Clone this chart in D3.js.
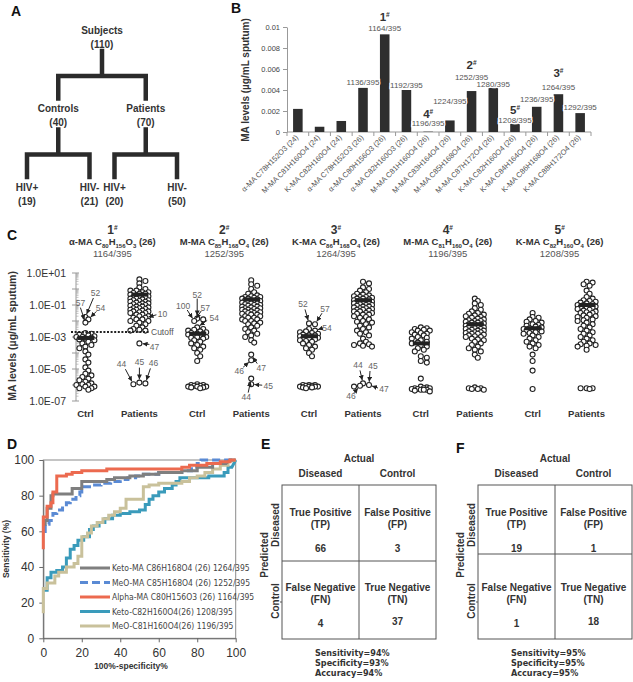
<!DOCTYPE html>
<html><head><meta charset="utf-8">
<script src="https://cdn.jsdelivr.net/npm/d3@7"></script>
<style>
body{margin:0;background:#fff;}
svg{display:block;font-family:"Liberation Sans",Arial,sans-serif;}
</style></head><body>
<svg id="c" width="633" height="682"></svg>
<script>
// ================= DATA =================
// Panel A: study tree
const treeIds = ["S","C","P","C+","C-","P+","P-"];
const treeParents = ["","S","S","C","C","P","P"];
const treeNames = ["Subjects","Controls","Patients","HIV+","HIV-","HIV+","HIV-"];
const treeCounts = [110,40,70,19,21,20,50];

// Panel B: MA levels per species
const bCategories = ["α-MA C78H152O3 (24)","M-MA C81H160O4 (24)","K-MA C82H160O4 (24)","α-MA C78H152O3 (26)","α-MA C80H156O3 (26)","α-MA C82H160O3 (26)","M-MA C81H160O4 (26)","M-MA C83H164O4 (26)","M-MA C85H168O4 (26)","M-MA C87H172O4 (26)","K-MA C82H160O4 (26)","K-MA C84H164O4 (26)","K-MA C86H168O4 (26)","K-MA C88H172O4 (26)"];
const bValues = [0.0022,0.0005,0.00105,0.0042,0.0093,0.0040,0.00003,0.0011,0.0039,0.0042,0.0008,0.0024,0.0036,0.0018];
const bIonLabels = [null,null,null,"1136/395","1164/395","1192/395","1196/395","1224/395","1252/395","1280/395","1208/395","1236/395","1264/395","1292/395"];
const bMarkerNums = [null,null,null,null,"1",null,"4",null,"2",null,"5",null,"3",null];
const bYTicks = [0,0.002,0.004,0.006,0.008,0.01];

// Panel C: log10 of MA levels (µg/mL sputum)
const cMarkerNums = ["1","2","3","4","5"];
const cMarkerNames = ["α-MA","M-MA","K-MA","M-MA","K-MA"];
const cFormulas = ["C80H156O3","C85H168O4","C86H168O4","C81H160O4","C82H160O4"];
const cChains = ["(26)","(26)","(26)","(26)","(26)"];
const cIons = ["1164/395","1252/395","1264/395","1196/395","1208/395"];
const cGroupLabels = ["Ctrl","Patients"];
const cYTicks = [1e1,1e-1,1e-3,1e-5,1e-7];
const c1Ctrl = [-1.75,-1.9,-2.1,-2.75,-2.8,-2.85,-2.9,-2.95,-3.0,-3.0,-3.05,-3.1,-3.15,-3.2,-3.3,-3.4,-3.5,-3.6,-3.7,-3.9,-4.1,-4.4,-4.6,-4.9,-5.1,-5.3,-5.4,-5.5,-5.6,-5.7,-5.8,-5.9,-6.0,-6.0,-6.1,-6.1,-6.2,-6.2,-6.3,-5.95];
const c1Pat = [0.6,0.5,0.35,0.1,0.0,-0.1,-0.1,-0.2,-0.2,-0.25,-0.3,-0.3,-0.35,-0.4,-0.4,-0.45,-0.5,-0.5,-0.55,-0.6,-0.6,-0.65,-0.7,-0.7,-0.75,-0.8,-0.8,-0.85,-0.9,-0.9,-0.95,-1.0,-1.0,-1.05,-1.1,-1.1,-1.15,-1.2,-1.2,-1.25,-1.3,-1.3,-1.35,-1.4,-1.4,-1.45,-1.5,-1.5,-1.6,-1.6,-1.7,-1.7,-1.8,-1.8,-1.9,-1.9,-2.0,-2.0,-2.1,-2.2,-2.3,-2.4,-2.5,-2.55,-2.6,-2.6,-3.4,-5.85,-5.95,-5.9];
const c2Ctrl = [-1.85,-1.9,-2.0,-2.4,-2.5,-2.55,-2.6,-2.65,-2.7,-2.75,-2.8,-2.8,-2.85,-2.9,-2.95,-3.0,-3.0,-3.05,-3.1,-3.2,-3.3,-3.4,-3.5,-3.6,-3.7,-3.8,-4.0,-4.2,-4.5,-5.95,-6.0,-6.0,-6.05,-6.05,-6.1,-6.1,-6.1,-6.15,-6.15,-6.2];
const c2Pat = [0.55,0.3,0.2,0.0,-0.2,-0.3,-0.4,-0.45,-0.5,-0.5,-0.55,-0.6,-0.6,-0.65,-0.7,-0.7,-0.75,-0.8,-0.8,-0.85,-0.9,-0.9,-0.95,-1.0,-1.0,-1.05,-1.1,-1.1,-1.15,-1.2,-1.2,-1.25,-1.3,-1.3,-1.35,-1.4,-1.4,-1.45,-1.5,-1.5,-1.55,-1.6,-1.6,-1.7,-1.7,-1.8,-1.8,-1.9,-1.9,-2.0,-2.0,-2.1,-2.15,-2.2,-2.3,-2.4,-2.5,-2.6,-2.7,-2.8,-2.9,-3.0,-3.2,-3.35,-4.1,-4.45,-5.6,-5.95];
const c3Ctrl = [-2.15,-2.2,-2.5,-2.6,-2.65,-2.7,-2.75,-2.8,-2.85,-2.9,-2.9,-2.95,-3.0,-3.0,-3.05,-3.1,-3.1,-3.15,-3.2,-3.25,-3.3,-3.4,-3.5,-3.6,-3.7,-3.8,-4.0,-4.2,-6.0,-6.0,-6.05,-6.05,-6.1,-6.1,-6.1,-6.15,-6.15,-6.2,-6.0,-6.1];
const c3Pat = [0.45,0.35,0.1,0.0,-0.1,-0.2,-0.3,-0.35,-0.4,-0.45,-0.5,-0.5,-0.55,-0.6,-0.6,-0.65,-0.7,-0.7,-0.75,-0.8,-0.8,-0.85,-0.9,-0.9,-0.95,-1.0,-1.0,-1.05,-1.1,-1.1,-1.15,-1.2,-1.2,-1.25,-1.3,-1.3,-1.35,-1.4,-1.4,-1.5,-1.5,-1.55,-1.6,-1.6,-1.7,-1.75,-1.8,-1.9,-2.0,-2.05,-2.1,-2.2,-2.3,-2.4,-2.5,-2.6,-2.7,-2.8,-2.9,-3.1,-3.3,-3.4,-3.5,-3.6,-3.55,-3.45,-5.9,-6.0,-6.05,-6.1];
const c4Ctrl = [-2.4,-2.45,-2.5,-2.55,-2.6,-2.6,-2.7,-2.75,-2.8,-2.85,-2.9,-3.0,-3.05,-3.1,-3.2,-3.3,-3.35,-3.4,-3.5,-3.6,-3.7,-3.8,-3.9,-4.2,-4.3,-4.5,-4.6,-5.6,-6.1,-6.15,-6.2,-6.2,-6.25,-6.25,-6.3,-6.3,-6.35,-6.4,-6.2,-6.3];
const c4Pat = [-0.6,-0.75,-0.9,-1.0,-1.2,-1.3,-1.4,-1.5,-1.55,-1.6,-1.65,-1.7,-1.75,-1.8,-1.85,-1.9,-1.95,-2.0,-2.0,-2.05,-2.1,-2.1,-2.15,-2.2,-2.2,-2.25,-2.3,-2.3,-2.35,-2.4,-2.4,-2.45,-2.5,-2.5,-2.55,-2.6,-2.6,-2.65,-2.7,-2.7,-2.75,-2.8,-2.8,-2.85,-2.9,-2.95,-3.0,-3.0,-3.1,-3.15,-3.2,-3.3,-3.4,-3.5,-3.6,-3.7,-3.8,-3.9,-4.1,-4.3,-6.15,-6.2,-6.2,-6.25,-6.25,-6.3];
const c5Ctrl = [-1.5,-1.75,-1.8,-1.9,-2.0,-2.05,-2.1,-2.2,-2.25,-2.3,-2.35,-2.4,-2.45,-2.5,-2.5,-2.55,-2.6,-2.65,-2.7,-2.75,-2.8,-2.9,-3.0,-3.1,-3.2,-3.3,-3.4,-3.5,-3.6,-3.7,-4.1,-4.5,-5.1,-6.25];
const c5Pat = [0.45,0.4,0.3,0.2,-0.1,-0.3,-0.5,-0.6,-0.7,-0.75,-0.8,-0.85,-0.9,-0.95,-1.0,-1.0,-1.05,-1.1,-1.15,-1.2,-1.2,-1.25,-1.3,-1.35,-1.4,-1.45,-1.5,-1.5,-1.6,-1.65,-1.7,-1.75,-1.8,-1.9,-1.95,-2.0,-2.1,-2.2,-2.3,-2.4,-2.5,-2.6,-2.7,-2.8,-2.9,-3.0,-3.1,-3.2,-3.3,-3.4,-3.45,-3.5,-3.55,-3.6,-3.8,-6.2,-6.2,-6.25,-6.2];
const cCtrl = [c1Ctrl,c2Ctrl,c3Ctrl,c4Ctrl,c5Ctrl];
const cPat = [c1Pat,c2Pat,c3Pat,c4Pat,c5Pat];
const cCtrlCenter = [-3.06,-2.8,-2.95,-3.4,-2.45];
const cPatCenter = [-0.35,-0.65,-0.7,-2.2,-1.0];
const cCutoff = -2.69;

// Panel D: ROC curves [100%-specificity, sensitivity]
const rocNames = ["Keto-MA C86H168O4 (26)  1264/395","MeO-MA C85H168O4 (26)  1252/395","Alpha-MA C80H156O3 (26) 1164/395","Keto-C82H160O4(26) 1208/395","MeO-C81H160O4(26)  1196/395"];
const rocKeto86 = [[0,64],[1,64],[1,66],[2,66],[2,73],[4,73],[4,80],[5,80],[5,81],[15,81],[15,84],[20,84],[20,88],[33,88],[33,89],[37,89],[37,90],[45,90],[45,91],[52,91],[52,92],[60,92],[60,93],[72,93],[72,94],[80,94],[80,96],[88,96],[88,98],[95,98],[97,100],[100,100]];
const rocMeO85 = [[1,59],[1,64],[3,64],[3,66],[5,66],[5,70],[7,70],[7,72],[10,72],[10,74],[12,74],[12,76],[14,76],[14,78],[17,78],[17,80],[19,80],[19,82],[20,82],[20,85],[24,85],[24,86],[30,86],[30,87],[35,87],[35,88],[40,88],[40,89],[44,89],[44,90],[48,90],[48,91],[52,91],[52,92],[60,92],[60,93],[72,93],[72,94],[77,94],[77,96],[80,96],[80,98],[82,98],[82,100],[100,100]];
const rocAlpha80 = [[0,50],[0,68],[2,68],[2,74],[4,74],[4,76],[5,76],[5,82],[7,82],[7,91],[12,91],[12,92],[15,92],[15,93],[20,93],[20,94],[33,94],[33,95],[72,95],[72,96],[76,96],[76,97],[85,97],[85,98],[92,98],[92,99],[97,99],[97,100],[100,100]];
const rocKeto82 = [[0,27],[2,27],[2,34],[4,34],[4,37],[7,37],[7,38],[10,38],[10,40],[12,40],[12,45],[14,45],[14,50],[16,50],[16,52],[18,52],[18,55],[21,55],[21,57],[24,57],[24,61],[26,61],[26,63],[29,63],[29,65],[32,65],[32,67],[36,67],[36,69],[40,69],[40,70],[45,70],[45,71],[50,71],[50,72],[53,72],[53,75],[55,75],[55,78],[57,78],[57,80],[60,80],[60,82],[63,82],[63,84],[67,84],[67,86],[69,86],[69,88],[71,88],[71,90],[86,90],[86,91],[94,91],[94,93],[96,93],[96,96],[98,96],[100,100]];
const rocMeO81 = [[0,14],[0,28],[2,28],[2,31],[6,31],[6,35],[8,35],[8,37],[12,37],[12,40],[16,40],[16,42],[18,42],[18,46],[20,46],[20,57],[23,57],[23,59],[25,59],[25,63],[28,63],[28,65],[31,65],[31,67],[34,67],[34,69],[37,69],[37,71],[40,71],[40,73],[43,73],[43,78],[52,78],[52,85],[55,85],[55,86],[60,86],[60,87],[72,87],[72,88],[76,88],[76,90],[80,90],[80,91],[84,91],[84,93],[88,93],[88,95],[92,95],[92,97],[96,97],[96,99],[100,100]];
const rocSeries = [rocKeto86,rocMeO85,rocAlpha80,rocKeto82,rocMeO81];
const rocTicks = [0,20,40,60,80,100];

// Panels E, F: confusion matrices
const mtxCols = ["Diseased","Control"];
const mtxRows = ["Diseased","Control"];
const mtxCellNames = [["True Positive","(TP)"],["False Positive","(FP)"],["False Negative","(FN)"],["True Negative","(TN)"]];
const eCounts = [66,3,4,37];
const fCounts = [19,1,1,18];
const eStats = ["Sensitivity=94%","Specificity=93%","Accuracy=94%"];
const fStats = ["Sensitivity=95%","Specificity=95%","Accuracy=95%"];

// ================= DRAWING =================
const svg = d3.select("#c");
const DARK = "#333";
const NARROW = "'Liberation Sans Narrow','DejaVu Sans Condensed','Liberation Sans',Arial,sans-serif";

svg.append("defs").append("marker").attr("id","ah").attr("viewBox","0 0 6 6")
  .attr("refX",6).attr("refY",3).attr("markerWidth",5).attr("markerHeight",5).attr("orient","auto")
  .append("path").attr("d","M0,0L6,3L0,6z").attr("fill","#222");

function rich(sel, segs, small) {
  let shift = 0;
  segs.forEach(([s, mode]) => {
    const target = mode === "sub" ? 2.5 : mode === "sup" ? -4 : 0;
    const t = sel.append("tspan").text(s).attr("dy", target - shift);
    if (mode) t.attr("font-size", small);
    shift = target;
  });
}
function formulaSegs(f) {
  const segs = [];
  f.replace(/([A-Z])(\d+)/g, (m, el, n) => { segs.push([el, null]); segs.push([n, "sub"]); return m; });
  return segs;
}
function panelLetter(t, x, y) {
  svg.append("text").attr("x", x).attr("y", y).attr("font-size", 14).attr("font-weight", "bold").attr("fill", "#111").text(t);
}

// ---------- A ----------
panelLetter("A", 11, 16);
{
  const g = svg.append("g");
  const rows = treeIds.map((id, i) => ({id, parent: treeParents[i] || null, name: treeNames[i], n: treeCounts[i]}));
  const root = d3.stratify().id(d => d.id).parentId(d => d.parent)(rows);
  d3.tree().size([175, 2]).separation((a, b) => a.parent === b.parent ? 2.5 : 1)(root);
  const ax = d => 14.5 + d.x;
  const ay = d3.scaleLinear().domain([0, 2]).range([30, 187]);
  root.descendants().forEach(d => {
    const t = g.append("text").attr("text-anchor", "middle").attr("font-size", 10).attr("font-weight", "bold").attr("fill", DARK);
    t.append("tspan").attr("x", ax(d)).attr("y", ay(d.y) + 3.5).text(d.data.name);
    t.append("tspan").attr("x", ax(d)).attr("y", ay(d.y) + 17.5).text("(" + d.data.n + ")");
    if (d.children) {
      const barY = ay(d.y) + 46;
      const path = d3.path();
      path.moveTo(ax(d), ay(d.y) + 21); path.lineTo(ax(d), barY);
      const xs = d.children.map(ax);
      path.moveTo(d3.min(xs), barY); path.lineTo(d3.max(xs), barY);
      d.children.forEach(c => { path.moveTo(ax(c), barY); path.lineTo(ax(c), ay(c.y) - 10); });
      g.append("path").attr("d", path.toString()).attr("fill", "none").attr("stroke", "#2b2b2b")
        .attr("stroke-width", 4.5).attr("stroke-linecap", "square");
    }
  });
}

// ---------- B ----------
panelLetter("B", 231, 13);
{
  const g = svg.append("g");
  const bx = d3.scaleBand().domain(d3.range(bCategories.length)).range([287, 591]).paddingInner(0.56).paddingOuter(0.28);
  const by = d3.scaleLinear().domain([0, 0.01]).range([132, 27]);
  const yAx = g.append("g").attr("transform", "translate(287,0)")
    .call(d3.axisLeft(by).tickValues(bYTicks).tickSize(4).tickSizeOuter(0).tickPadding(3)
      .tickFormat(d => d === 0 ? "0" : d3.format("~g")(d)));
  yAx.select(".domain").attr("stroke", "#999");
  yAx.selectAll(".tick line").attr("stroke", "#999");
  yAx.selectAll("text").attr("font-size", 7.5).attr("fill", "#444").attr("font-family", "'Liberation Sans',Arial,sans-serif");
  const step = bx.step();
  g.append("line").attr("x1", 287).attr("x2", 591).attr("y1", 132).attr("y2", 132).attr("stroke", "#999");
  d3.range(bCategories.length + 1).forEach(i => {
    const x = bx.range()[0] + i * step;
    g.append("line").attr("x1", x).attr("x2", x).attr("y1", 132).attr("y2", 136).attr("stroke", "#999");
  });
  g.selectAll("rect.bar").data(bValues).join("rect").attr("class", "bar")
    .attr("x", (d, i) => bx(i)).attr("width", bx.bandwidth())
    .attr("y", d => by(d)).attr("height", d => 132 - by(d)).attr("fill", "#2e2e2e");
  g.selectAll("text.cat").data(bCategories).join("text").attr("class", "cat")
    .attr("transform", (d, i) => `translate(${bx(i) + bx.bandwidth() / 2 + 1},138) rotate(-45)`)
    .attr("text-anchor", "end").attr("font-size", 7.5).attr("fill", "#555").text(d => d);
  const lift = [0,0,0,3,3,2,6,16,11,1,1,5,4,3];
  const supGap = [0,0,0,0,10.5,0,7.5,0,11.5,0,8.5,0,13.5,0];
  const order = [13,3,4,5,6,7,8,9,10,11,12];
  order.forEach(i => {
    if (!bIonLabels[i]) return;
    const cx = bx(i) + bx.bandwidth() / 2;
    const base = by(bValues[i]) - lift[i];
    g.append("text").attr("x", cx).attr("y", base).attr("text-anchor", "middle").attr("font-size", 8)
      .attr("fill", "#555").attr("stroke", "#fff").attr("stroke-width", 2.5).attr("paint-order", "stroke")
      .text(bIonLabels[i]);
    if (bMarkerNums[i]) {
      const t = g.append("text").attr("x", cx).attr("y", base - supGap[i]).attr("text-anchor", "middle")
        .attr("font-size", 11.5).attr("font-weight", "bold").attr("fill", DARK);
      rich(t, [[bMarkerNums[i], null], ["#", "sup"]], 6.5);
    }
  });
  g.append("text").attr("transform", "translate(249,80) rotate(-90)").attr("text-anchor", "middle")
    .attr("font-size", 10).attr("font-weight", "bold").attr("fill", DARK).text("MA levels (µg/mL sputum)");
}

// ---------- C ----------
panelLetter("C", 7, 240);
{
  const g = svg.append("g");
  const cy = d3.scaleLog().domain([1e-7, 1e1]).range([401, 273]);
  const mBand = d3.scaleBand().domain(cMarkerNums).range([56.5, 615.5]);
  const side = d3.scalePoint().domain(cGroupLabels).range([-27, 27]);
  const mc = m => mBand(m) + mBand.bandwidth() / 2;
  g.append("line").attr("x1", 76).attr("x2", 76).attr("y1", cy(1e1)).attr("y2", cy(1e-7)).attr("stroke", "#999");
  d3.range(-7, 1).forEach(e => {
    d3.range(2, 10).forEach(k => {
      const y = cy(k * Math.pow(10, e));
      g.append("line").attr("x1", 76).attr("x2", 78.5).attr("y1", y).attr("y2", y).attr("stroke", "#aaa").attr("stroke-width", 0.7);
    });
  });
  d3.range(-7, 2).forEach(e => {
    const y = cy(Math.pow(10, e));
    g.append("line").attr("x1", 72).attr("x2", 79).attr("y1", y).attr("y2", y).attr("stroke", "#999");
  });
  cYTicks.forEach(v => {
    const e = Math.round(Math.log10(v));
    g.append("text").attr("x", 66).attr("y", cy(v) + 3.8).attr("text-anchor", "end").attr("font-size", 10.5)
      .attr("fill", DARK).text("1.0E" + (e >= 0 ? "+" : "-") + String(Math.abs(e)).padStart(2, "0"));
  });
  g.append("text").attr("transform", "translate(16,336) rotate(-90)").attr("text-anchor", "middle")
    .attr("font-size", 10.5).attr("font-weight", "bold").attr("fill", DARK).text("MA levels (µg/mL sputum)");
  cMarkerNums.forEach((m, i) => {
    const x = mc(m);
    const t1 = g.append("text").attr("x", x).attr("y", 234).attr("text-anchor", "middle").attr("font-size", 12).attr("font-weight", "bold").attr("fill", DARK);
    rich(t1, [[m, null], ["#", "sup"]], 6.5);
    const t2 = g.append("text").attr("x", x).attr("y", 245).attr("text-anchor", "middle").attr("font-size", 9.5).attr("font-weight", "bold").attr("fill", DARK);
    rich(t2, [[cMarkerNames[i] + " ", null]].concat(formulaSegs(cFormulas[i])).concat([[" " + cChains[i], null]]), 6);
    g.append("text").attr("x", x).attr("y", 257).attr("text-anchor", "middle").attr("font-size", 9.5).attr("fill", "#555").text(cIons[i]);
    cGroupLabels.forEach(lab => {
      g.append("text").attr("x", x + side(lab)).attr("y", 417).attr("text-anchor", "middle").attr("font-size", 9.5)
        .attr("font-weight", "bold").attr("fill", DARK).text(lab);
    });
  });
  function swarm(vals, cx) {
    const pts = vals.map((v, i) => ({v, i, y: cy(Math.pow(10, v))})).sort((a, b) => a.y - b.y || a.i - b.i);
    const placed = [];
    const offs = [0, 3, -3, 6, -6, 9, -9];
    pts.forEach(p => {
      let best = 0, bestD = -1;
      for (const o of offs) {
        let md = Infinity;
        for (const q of placed) { const d = Math.hypot(q.x - (cx + o), q.y - p.y); if (d < md) md = d; }
        if (md >= 3.8) { best = o; bestD = md; break; }
        if (md > bestD) { bestD = md; best = o; }
      }
      p.x = cx + best; placed.push(p);
    });
    return placed;
  }
  const groups = [];
  cMarkerNums.forEach((m, i) => {
    [[cCtrl[i], cCtrlCenter[i], "Ctrl"], [cPat[i], cPatCenter[i], "Patients"]].forEach(([vals, ctr, lab]) => {
      const cx = mc(m) + side(lab);
      const pts = swarm(vals, cx);
      groups.push({cx, pts});
      g.append("g").selectAll("circle").data(pts).join("circle").attr("cx", d => d.x).attr("cy", d => d.y).attr("r", 2.5)
        .attr("fill", "#fff").attr("stroke", "#222").attr("stroke-width", 1.1);
      g.append("rect").attr("x", cx - 8).attr("width", 17).attr("y", cy(Math.pow(10, ctr)) - 2).attr("height", 4).attr("fill", "#222");
    });
  });
  const ycut = cy(Math.pow(10, cCutoff));
  g.append("line").attr("x1", 71).attr("x2", 149).attr("y1", ycut).attr("y2", ycut).attr("stroke", "#222")
    .attr("stroke-width", 2).attr("stroke-dasharray", "2,1.6");
  g.append("text").attr("x", 151).attr("y", ycut + 3).attr("font-size", 8.5).attr("fill", "#555").text("Cutoff");
  const ann = [
    [0,-2.1,-3,"57",-5,-20,-5,-15],[0,-1.75,0,"52",10,-24,8,-19],[0,-1.9,3,"54",12,-11,8,-8],
    [1,-1.8,6,"10",17,-4,11,-3],[1,-3.4,0,"47",15,4,10,1],
    [1,-5.85,-6,"44",-12,-20,-8,-15],[1,-5.95,0,"45",0,-21,0,-15],[1,-5.9,6,"46",8,-20,5,-15],
    [2,-1.85,0,"52",0,-24,0,-20],[2,-1.9,-3,"100",-11,-15,-7,-11],[2,-2.0,3,"57",11,-13,7,-10],[2,-2.4,4,"54",17,-9,10,-7],
    [3,-4.45,-3,"46",-12,11,-8,7],[3,-4.1,3,"47",10,13,6,9],[3,-5.6,-3,"44",-5,18,-3,14],[3,-5.95,3,"45",17,2,11,1],
    [4,-2.15,0,"52",-6,-19,-4,-14],[4,-2.2,3,"57",10,-15,7,-11],[4,-2.5,6,"54",12,-3,6,-2],
    [5,-5.9,-6,"44",-5,-18,-3,-13],[5,-6.0,6,"45",4,-19,1,-14],[5,-6.05,-3,"46",-9,10,-6,7],[5,-6.1,3,"47",15,4,9,3]
  ];
  ann.forEach(([gi, v, hx, lab, lx, ly, sx, sy]) => {
    const grp = groups[gi];
    const ty = cy(Math.pow(10, v));
    const p = d3.least(grp.pts, q => Math.abs(q.y - ty) * 3 + Math.abs(q.x - (grp.cx + hx)));
    const x0 = p.x + sx, y0 = p.y + sy;
    const dx = p.x - x0, dy = p.y - y0, len = Math.hypot(dx, dy);
    g.append("line").attr("x1", x0).attr("y1", y0).attr("x2", p.x - dx / len * 3.2).attr("y2", p.y - dy / len * 3.2)
      .attr("stroke", "#222").attr("stroke-width", 1).attr("marker-end", "url(#ah)");
    g.append("text").attr("x", p.x + lx).attr("y", p.y + ly + 3).attr("text-anchor", "middle").attr("font-size", 8.5)
      .attr("fill", "#666").text(lab);
  });
}

// ---------- D ----------
panelLetter("D", 7, 449);
{
  const g = svg.append("g");
  const dx = d3.scaleLinear().domain([0, 100]).range([43.3, 235.7]);
  const dy = d3.scaleLinear().domain([0, 100]).range([638.3, 460]);
  g.append("rect").attr("x", dx(0)).attr("y", dy(100)).attr("width", dx(100) - dx(0)).attr("height", dy(0) - dy(100))
    .attr("fill", "none").attr("stroke", "#8a8a8a");
  const xa = g.append("g").attr("transform", `translate(0,${dy(0)})`).call(d3.axisBottom(dx).tickValues(rocTicks).tickSize(4).tickSizeOuter(0).tickPadding(6));
  const ya = g.append("g").attr("transform", `translate(${dx(0)},0)`).call(d3.axisLeft(dy).tickValues(rocTicks).tickSize(4).tickSizeOuter(0).tickPadding(5));
  [xa, ya].forEach(a => {
    a.select(".domain").attr("stroke", "#666");
    a.selectAll(".tick line").attr("stroke", "#666");
    a.selectAll("text").attr("font-size", 12).attr("fill", DARK).attr("font-family", "'Liberation Sans',Arial,sans-serif");
  });
  const colors = ["#7f7f7f", "#5a8ad4", "#ec6a4f", "#3a9bbb", "#c9c19b"];
  const dashes = [null, "8,4", null, null, null];
  const line = d3.line().x(d => dx(d[0])).y(d => dy(d[1]));
  const drawOrder = [3, 4, 1, 0, 2];
  drawOrder.forEach(i => {
    g.append("path").attr("d", line(rocSeries[i])).attr("fill", "none").attr("stroke", colors[i])
      .attr("stroke-width", 3).attr("stroke-dasharray", dashes[i]).attr("stroke-linejoin", "miter");
  });
  rocNames.forEach((n, i) => {
    const y = 568 + i * 14.5;
    g.append("line").attr("x1", 80).attr("x2", 110).attr("y1", y).attr("y2", y).attr("stroke", colors[i])
      .attr("stroke-width", 3).attr("stroke-dasharray", dashes[i]);
    g.append("text").attr("x", 112).attr("y", y + 3).attr("font-size", 8.5).attr("fill", "#444")
      .attr("font-family", NARROW).text(n);
  });
  g.append("text").attr("transform", "translate(9,549) rotate(-90)").attr("text-anchor", "middle").attr("font-size", 8.5)
    .attr("font-weight", "bold").attr("fill", DARK).text("Sensitivity (%)");
  g.append("text").attr("x", 131).attr("y", 669).attr("text-anchor", "middle").attr("font-size", 8.5)
    .attr("font-weight", "bold").attr("fill", DARK).text("100%-specificity%");
}

// ---------- E, F ----------
function matrix(letter, lx, ly, left, splitY, counts, stats) {
  panelLetter(letter, lx, ly);
  const g = svg.append("g");
  const top = 485, bottom = 639, width = 154;
  const colX = d3.scaleBand().domain(mtxCols).range([left, left + width]);
  const rowY = d3.scaleLinear().domain([0, 1, 2]).range([top, splitY, bottom]);
  g.append("rect").attr("x", left).attr("y", top).attr("width", width).attr("height", bottom - top)
    .attr("fill", "none").attr("stroke", "#555").attr("stroke-width", 1);
  g.append("line").attr("x1", colX("Control")).attr("x2", colX("Control")).attr("y1", top).attr("y2", bottom).attr("stroke", "#555");
  g.append("line").attr("x1", left).attr("x2", left + width).attr("y1", rowY(1)).attr("y2", rowY(1)).attr("stroke", "#555");
  g.append("line").attr("x1", left - 2).attr("x2", left).attr("y1", 602).attr("y2", 602).attr("stroke", "#555");
  const mid = left + width / 2;
  g.append("text").attr("x", mid).attr("y", 461.5).attr("text-anchor", "middle").attr("font-size", 10).attr("font-weight", "bold").attr("fill", DARK).text("Actual");
  mtxCols.forEach(c => g.append("text").attr("x", colX(c) + colX.bandwidth() / 2).attr("y", 476.5).attr("text-anchor", "middle")
    .attr("font-size", 10).attr("font-weight", "bold").attr("fill", DARK).text(c));
  g.append("text").attr("transform", `translate(${left - 14},555) rotate(-90)`).attr("text-anchor", "middle")
    .attr("font-size", 10).attr("font-weight", "bold").attr("fill", DARK).text("Predicted");
  mtxRows.forEach((r, ri) => {
    const yc = ri === 0 ? 525 : 601;
    g.append("text").attr("transform", `translate(${left - 3.5},${yc}) rotate(-90)`).attr("text-anchor", "middle")
      .attr("font-size", 10).attr("font-weight", "bold").attr("fill", DARK).text(r);
    mtxCols.forEach((c, ci) => {
      const k = ri * 2 + ci;
      const x = colX(c) + colX.bandwidth() / 2;
      const y0 = top + ri * 75;
      g.append("text").attr("x", x).attr("y", y0 + 30.5).attr("text-anchor", "middle").attr("font-size", 10).attr("font-weight", "bold").attr("fill", DARK).text(mtxCellNames[k][0]);
      g.append("text").attr("x", x).attr("y", y0 + 42.5).attr("text-anchor", "middle").attr("font-size", 10).attr("font-weight", "bold").attr("fill", DARK).text(mtxCellNames[k][1]);
      g.append("text").attr("x", x).attr("y", y0 + 66.5 - (k === 3 ? 2 : 0)).attr("text-anchor", "middle").attr("font-size", 10).attr("font-weight", "bold").attr("fill", DARK).text(counts[k]);
    });
  });
  stats.forEach((s, i) => g.append("text").attr("x", mid - 44).attr("y", 655.5 + i * 10).attr("font-size", 9)
    .attr("font-weight", "bold").attr("fill", DARK).attr("font-family", NARROW).text(s));
}
matrix("E", 261, 449, 282, 561, eCounts, eStats);
matrix("F", 456, 453, 478, 554, fCounts, fStats);
</script>
</body></html>
